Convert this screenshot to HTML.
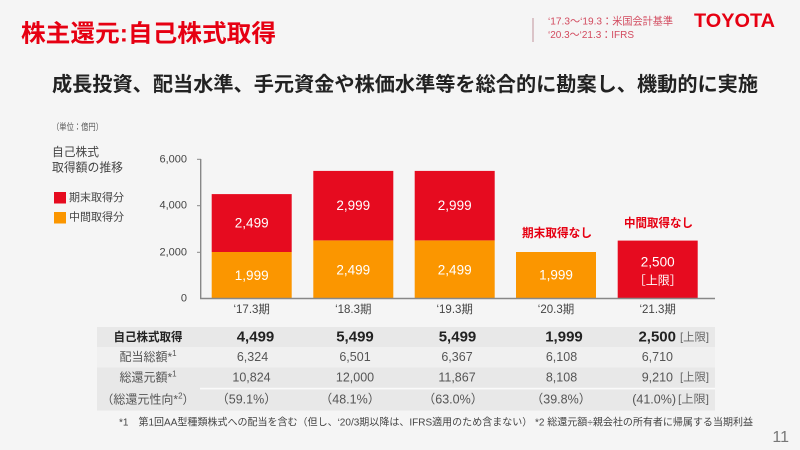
<!DOCTYPE html>
<html><head><meta charset="utf-8"><style>
html,body{margin:0;padding:0;background:#f5f5f5;}
svg{display:block;}
text{font-family:"Liberation Sans","Noto Sans CJK JP",sans-serif;}
</style></head><body>
<svg width="800" height="450" viewBox="0 0 800 450" xmlns="http://www.w3.org/2000/svg">
<rect x="0" y="0" width="800" height="450" fill="#f5f5f5"/>
<!-- Title -->
<text x="21" y="34" dominant-baseline="central" font-size="24" font-weight="bold" fill="#e60012" textLength="255" lengthAdjust="spacingAndGlyphs">株主還元:自己株式取得</text>
<!-- Top right -->
<line x1="533" y1="18" x2="533" y2="42" stroke="#c9a3aa" stroke-width="1.2"/>
<text x="548" y="21.5" dominant-baseline="central" font-size="10.5" fill="#d24a5e" textLength="125" lengthAdjust="spacingAndGlyphs">‘17.3〜‘19.3：米国会計基準</text>
<text x="548" y="35" dominant-baseline="central" font-size="10.5" fill="#d24a5e" textLength="86" lengthAdjust="spacingAndGlyphs">‘20.3〜‘21.3：IFRS</text>
<text x="694" y="21" dominant-baseline="central" font-size="19.5" font-weight="bold" fill="#e60012" textLength="81" lengthAdjust="spacingAndGlyphs">TOYOTA</text>
<!-- Subtitle -->
<text x="52" y="85" dominant-baseline="central" font-size="20" font-weight="bold" fill="#222" textLength="706" lengthAdjust="spacingAndGlyphs">成長投資、配当水準、手元資金や株価水準等を総合的に勘案し、機動的に実施</text>
<!-- Unit & legend -->
<text x="52" y="127" dominant-baseline="central" font-size="9" fill="#555" textLength="51" lengthAdjust="spacingAndGlyphs">（単位：億円）</text>
<text x="52" y="152" dominant-baseline="central" font-size="12" fill="#444" textLength="47" lengthAdjust="spacingAndGlyphs">自己株式</text>
<text x="52" y="167.5" dominant-baseline="central" font-size="12" fill="#444" textLength="71" lengthAdjust="spacingAndGlyphs">取得額の推移</text>
<rect x="54" y="192" width="12" height="11.5" fill="#e60b1f"/>
<text x="69" y="198" dominant-baseline="central" font-size="11" fill="#444" textLength="55" lengthAdjust="spacingAndGlyphs">期末取得分</text>
<rect x="54" y="212" width="12" height="11.5" fill="#fb9600"/>
<text x="69" y="217.5" dominant-baseline="central" font-size="11" fill="#444" textLength="55" lengthAdjust="spacingAndGlyphs">中間取得分</text>
<!-- Axes -->
<line x1="200.7" y1="159" x2="200.7" y2="298.5" stroke="#888" stroke-width="1.4"/>
<line x1="197" y1="159.3" x2="201" y2="159.3" stroke="#888" stroke-width="1"/>
<line x1="197" y1="205.7" x2="201" y2="205.7" stroke="#888" stroke-width="1"/>
<line x1="197" y1="252.3" x2="201" y2="252.3" stroke="#888" stroke-width="1"/>
<g font-size="11" fill="#444" text-anchor="end" dominant-baseline="central">
<text x="187" y="159.3">6,000</text>
<text x="187" y="205.7">4,000</text>
<text x="187" y="252.3">2,000</text>
<text x="187" y="298.3">0</text>
</g>
<!-- Bars -->
<rect x="211.7" y="252.0" width="80" height="46.3" fill="#fb9600"/>
<rect x="211.7" y="194.1" width="80" height="57.9" fill="#e60b1f"/>
<rect x="313.3" y="240.4" width="80" height="57.9" fill="#fb9600"/>
<rect x="313.3" y="170.9" width="80" height="69.5" fill="#e60b1f"/>
<rect x="414.7" y="240.4" width="80" height="57.9" fill="#fb9600"/>
<rect x="414.7" y="170.9" width="80" height="69.5" fill="#e60b1f"/>
<rect x="516" y="252.0" width="80" height="46.3" fill="#fb9600"/>
<rect x="617.7" y="240.6" width="80" height="57.7" fill="#e60b1f"/>
<line x1="200" y1="298.5" x2="715" y2="298.5" stroke="#888" stroke-width="1.4"/>
<g font-size="13.5" fill="#fff" text-anchor="middle" dominant-baseline="central">
<text x="251.7" y="223">2,499</text>
<text x="251.7" y="275.5">1,999</text>
<text x="353.3" y="205.7">2,999</text>
<text x="353.3" y="269.8">2,499</text>
<text x="454.7" y="205.7">2,999</text>
<text x="454.7" y="269.8">2,499</text>
<text x="556" y="275">1,999</text>
<text x="657.7" y="262">2,500</text>
<text x="657.7" y="280.5" font-size="12">［上限］</text>
</g>
<text x="557" y="233" text-anchor="middle" dominant-baseline="central" font-size="12" font-weight="bold" fill="#e60012" textLength="70" lengthAdjust="spacingAndGlyphs">期末取得なし</text>
<text x="658.5" y="223" text-anchor="middle" dominant-baseline="central" font-size="12" font-weight="bold" fill="#e60012" textLength="69" lengthAdjust="spacingAndGlyphs">中間取得なし</text>
<g font-size="11.5" fill="#444" text-anchor="middle" dominant-baseline="central">
<text x="251.7" y="310">‘17.3期</text>
<text x="353.3" y="310">‘18.3期</text>
<text x="454.7" y="310">‘19.3期</text>
<text x="556" y="310">‘20.3期</text>
<text x="657.7" y="310">‘21.3期</text>
</g>
<!-- Table -->
<rect x="97" y="327" width="618" height="20" fill="#e8e8e8"/>
<rect x="97" y="347" width="618" height="20.5" fill="#f0f0f0"/>
<rect x="97" y="367.5" width="618" height="43" fill="#e8e8e8"/>
<rect x="200" y="387.8" width="515" height="1.6" fill="#fafafa"/>
<text x="148" y="337" text-anchor="middle" dominant-baseline="central" font-size="12" font-weight="bold" fill="#222" textLength="69" lengthAdjust="spacingAndGlyphs">自己株式取得</text>
<text x="148" y="357" text-anchor="middle" dominant-baseline="central" font-size="12" fill="#555">配当総額*<tspan font-size="8" dy="-4">1</tspan></text>
<text x="148" y="377.5" text-anchor="middle" dominant-baseline="central" font-size="12" fill="#555">総還元額*<tspan font-size="8" dy="-4">1</tspan></text>
<text x="148" y="399.5" text-anchor="middle" dominant-baseline="central" font-size="12" fill="#555">（総還元性向*<tspan font-size="8" dy="-4">2</tspan><tspan dy="4">）</tspan></text>
<g font-size="15" font-weight="bold" fill="#222" text-anchor="middle" dominant-baseline="central">
<text x="255.5" y="337">4,499</text>
<text x="355" y="337">5,499</text>
<text x="457.5" y="337">5,499</text>
<text x="564" y="337">1,999</text>
<text x="676" y="337" text-anchor="end">2,500</text>
</g>
<g font-size="12.5" fill="#555" text-anchor="middle" dominant-baseline="central">
<text x="252.5" y="357">6,324</text>
<text x="355" y="357">6,501</text>
<text x="457" y="357">6,367</text>
<text x="561.5" y="357">6,108</text>
<text x="673" y="357" text-anchor="end">6,710</text>
<text x="251.5" y="377.5">10,824</text>
<text x="355" y="377.5">12,000</text>
<text x="457" y="377.5">11,867</text>
<text x="561.5" y="377.5">8,108</text>
<text x="673" y="377.5" text-anchor="end">9,210</text>
<text x="246.5" y="399.5">（59.1%）</text>
<text x="350" y="399.5">（48.1%）</text>
<text x="453" y="399.5">（63.0%）</text>
<text x="561" y="399.5">（39.8%）</text>
<text x="676" y="399.5" text-anchor="end">(41.0%)</text>
</g>
<g font-size="11" fill="#666" dominant-baseline="central">
<text x="680" y="337.5" textLength="29" lengthAdjust="spacingAndGlyphs">[上限]</text>
<text x="680" y="377.5" textLength="29" lengthAdjust="spacingAndGlyphs">[上限]</text>
<text x="678" y="399.5" textLength="31" lengthAdjust="spacingAndGlyphs">[上限]</text>
</g>
<!-- Footer -->
<text x="119" y="423" dominant-baseline="central" font-size="10" fill="#444" textLength="634" lengthAdjust="spacingAndGlyphs">*1　第1回AA型種類株式への配当を含む（但し、‘20/3期以降は、IFRS適用のため含まない） *2 総還元額÷親会社の所有者に帰属する当期利益</text>
<text x="789" y="437.5" text-anchor="end" dominant-baseline="central" font-size="16" fill="#777">11</text>
</svg>
</body></html>
